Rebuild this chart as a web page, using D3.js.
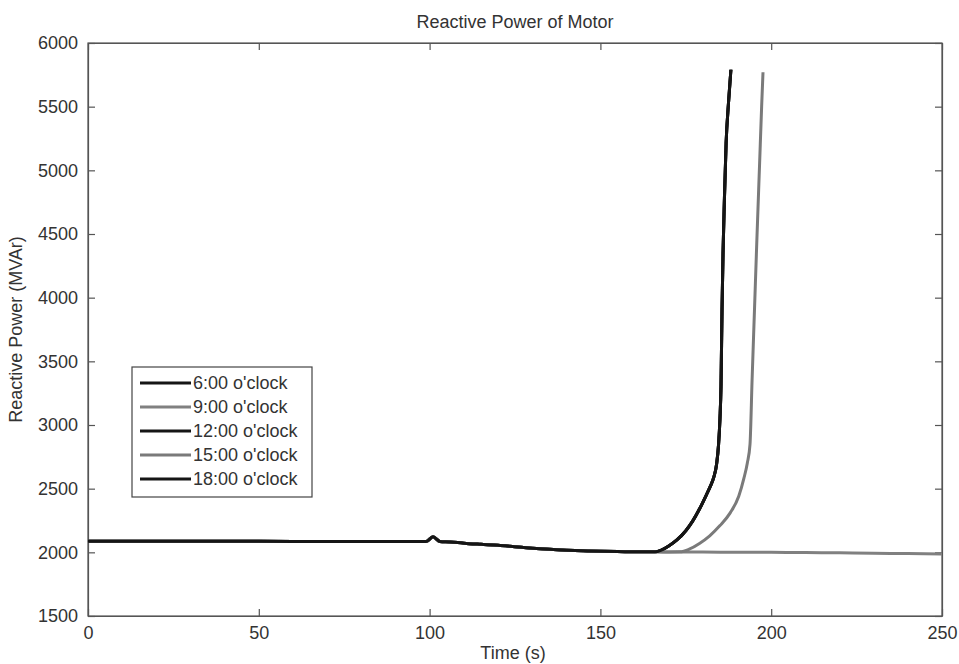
<!DOCTYPE html>
<html>
<head>
<meta charset="utf-8">
<script src="https://cdn.jsdelivr.net/npm/d3@7/dist/d3.min.js"></script>
<style>
  html, body { margin: 0; padding: 0; background: #fff; }
  svg { display: block; }
  text { font-family: "Liberation Sans", Arial, sans-serif; fill: #333; }
</style>
</head>
<body>
<svg id="chart" width="959" height="664"></svg>
<script>
// ---- Data ----
const seriesNames = ["6:00 o'clock", "9:00 o'clock", "12:00 o'clock", "15:00 o'clock", "18:00 o'clock"];
const seriesColors = ["#151515", "#808080", "#151515", "#7a7a7a", "#151515"];

// shared pre-collapse part (time s, reactive power MVAr)
const commonT = [0, 20, 40, 60, 80, 99, 101, 103, 106, 110, 115, 120, 125, 130, 135, 140, 145, 150, 155, 160, 166];
const commonV = [2088, 2087, 2087, 2086, 2086, 2085, 2122, 2086, 2082, 2072, 2063, 2055, 2044, 2033, 2024, 2017, 2012, 2008, 2006, 2005, 2004];

// early collapse (black curves)
const earlyT = [168, 170, 172.4, 175, 177, 179, 181, 182.2, 183.2, 184, 184.6, 185, 185.3, 185.6, 185.9, 186.3, 186.8, 187.5, 188.2];
const earlyV = [2020, 2050, 2097, 2170, 2245, 2340, 2450, 2520, 2590, 2690, 2850, 3050, 3300, 3900, 4350, 4770, 5215, 5530, 5790];

// late collapse (grey curve)
const lateT = [170, 173.3, 176, 179, 182, 185, 188, 190.5, 192, 193, 193.8, 194.4, 195.1, 195.8, 196.6, 197.2, 197.6];
const lateV = [2003, 2004, 2025, 2070, 2130, 2210, 2310, 2440, 2580, 2700, 2850, 3350, 3900, 4450, 5050, 5500, 5770];

// stable (grey flat line)
const flatT = [170, 180, 190, 200, 210, 220, 230, 240, 250];
const flatV = [2003, 2002, 2001, 2000, 1998, 1996, 1993, 1990, 1987];

const tails = [[earlyT, earlyV], [flatT, flatV], [earlyT, earlyV], [lateT, lateV], [earlyT, earlyV]];

const xTicks = [0, 50, 100, 150, 200, 250];
const yTicks = [1500, 2000, 2500, 3000, 3500, 4000, 4500, 5000, 5500, 6000];

const titleText = "Reactive Power of Motor";
const xLabel = "Time (s)";
const yLabel = "Reactive Power (MVAr)";

// ---- Layout ----
const svg = d3.select("#chart");
const L = 88, R = 942, T = 43, B = 616;
const x = d3.scaleLinear().domain([0, 250]).range([L, R]);
const y = d3.scaleLinear().domain([1500, 6000]).range([B, T]);

const fs = 18;

// plot box
svg.append("rect").attr("x", L).attr("y", T).attr("width", R - L).attr("height", B - T)
  .attr("fill", "#fff").attr("stroke", "#555").attr("stroke-width", 1.2);

// axes with inward ticks
const fmt = d3.format("d");
const axB = d3.axisBottom(x).tickValues(xTicks).tickFormat(fmt).tickSizeInner(-7).tickSizeOuter(0).tickPadding(10);
const axT = d3.axisTop(x).tickValues(xTicks).tickSizeInner(-7).tickSizeOuter(0).tickFormat("");
const axL = d3.axisLeft(y).tickValues(yTicks).tickFormat(fmt).tickSizeInner(-7).tickSizeOuter(0).tickPadding(10);
const axR = d3.axisRight(y).tickValues(yTicks).tickSizeInner(-7).tickSizeOuter(0).tickFormat("");

function styleAxis(g) {
  g.select(".domain").attr("stroke", "#555").attr("stroke-width", 1.2);
  g.selectAll(".tick line").attr("stroke", "#555").attr("stroke-width", 1.2);
  g.selectAll(".tick text").attr("font-size", fs).attr("fill", "#333")
    .style("font-family", "'Liberation Sans', Arial, sans-serif");
}
svg.append("g").attr("transform", `translate(0,${B})`).call(axB).call(styleAxis);
svg.append("g").attr("transform", `translate(0,${T})`).call(axT).call(styleAxis);
svg.append("g").attr("transform", `translate(${L},0)`).call(axL).call(styleAxis);
svg.append("g").attr("transform", `translate(${R},0)`).call(axR).call(styleAxis);

// lines
const line = d3.line().curve(d3.curveMonotoneX).x(d => x(d[0])).y(d => y(d[1]));
const seriesData = seriesNames.map((n, i) => {
  const pts = commonT.map((t, j) => [t, commonV[j]]);
  const [tt, tv] = tails[i];
  tt.forEach((t, j) => pts.push([t, tv[j]]));
  return pts;
});

const plot = svg.append("g");
seriesData.forEach((pts, i) => {
  plot.append("path").datum(pts).attr("d", line)
    .attr("fill", "none").attr("stroke", seriesColors[i])
    .attr("stroke-width", 3).attr("stroke-linejoin", "round");
});

// legend
const lg = svg.append("g");
lg.append("rect").attr("x", 132).attr("y", 367).attr("width", 180).attr("height", 130)
  .attr("fill", "#fff").attr("stroke", "#444").attr("stroke-width", 1.2);
seriesNames.forEach((n, i) => {
  const yy = 383 + i * 24;
  lg.append("line").attr("x1", 140).attr("x2", 191).attr("y1", yy).attr("y2", yy)
    .attr("stroke", seriesColors[i]).attr("stroke-width", 3);
  lg.append("text").attr("x", 193).attr("y", yy).attr("dy", "0.36em")
    .attr("font-size", fs).text(n);
});

// titles
svg.append("text").attr("x", (L + R) / 2).attr("y", 28).attr("text-anchor", "middle")
  .attr("font-size", fs).text(titleText);
svg.append("text").attr("x", (L + R) / 2 - 2).attr("y", 659).attr("text-anchor", "middle")
  .attr("font-size", fs).text(xLabel);
svg.append("text").attr("transform", `translate(22,${(T + B) / 2}) rotate(-90)`)
  .attr("text-anchor", "middle").attr("font-size", fs).text(yLabel);
</script>
</body>
</html>
